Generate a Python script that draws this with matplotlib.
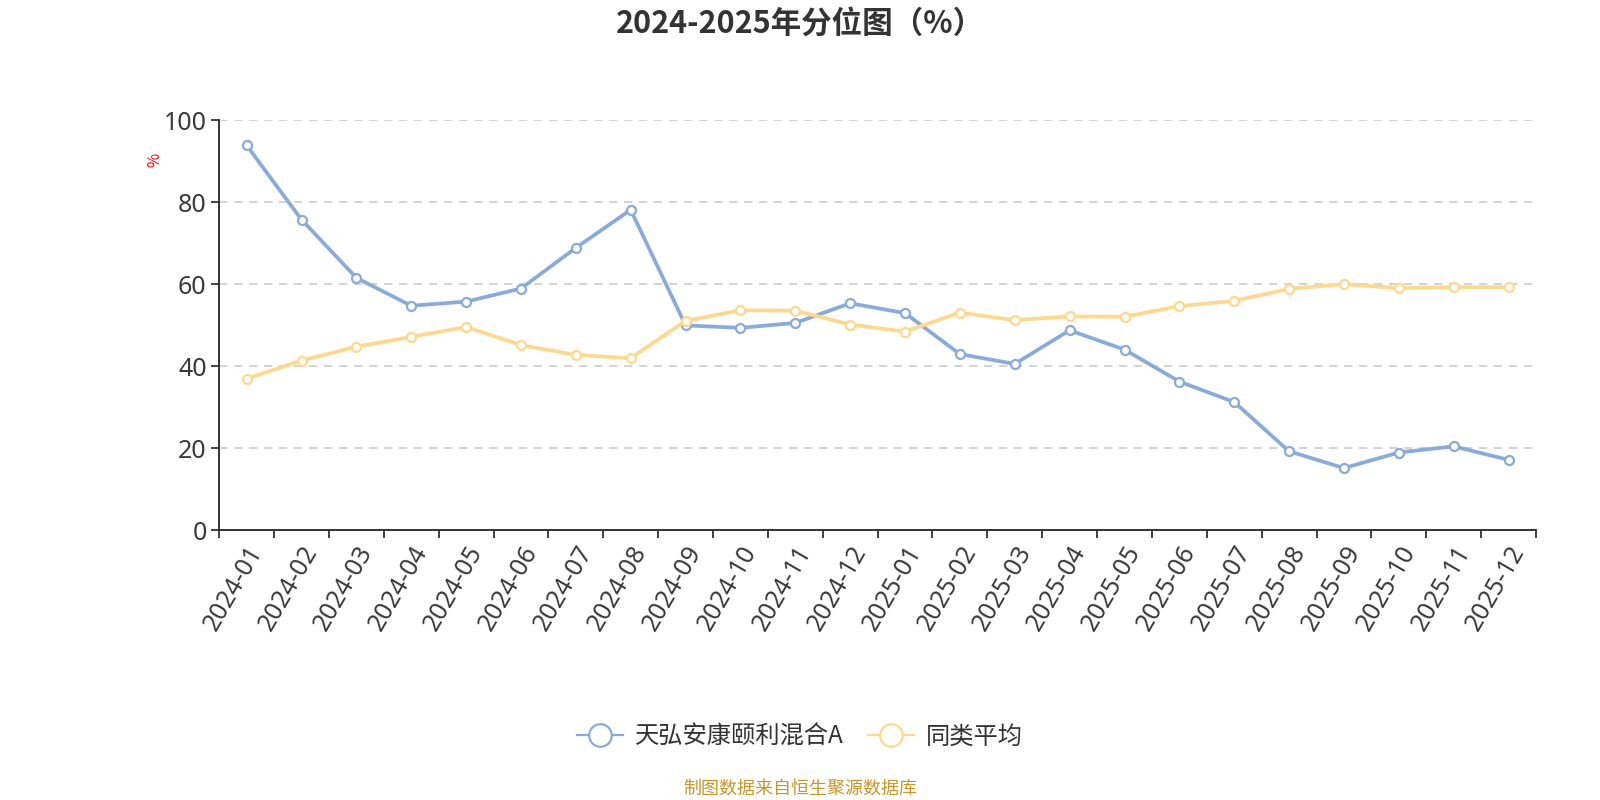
import matplotlib
matplotlib.use("Agg")
import matplotlib.pyplot as plt
from matplotlib.ticker import FixedLocator, NullFormatter

plt.rcParams['font.family'] = ['Noto Sans CJK SC', 'DejaVu Sans']

months = ["2024-01", "2024-02", "2024-03", "2024-04", "2024-05", "2024-06",
          "2024-07", "2024-08", "2024-09", "2024-10", "2024-11", "2024-12",
          "2025-01", "2025-02", "2025-03", "2025-04", "2025-05", "2025-06",
          "2025-07", "2025-08", "2025-09", "2025-10", "2025-11", "2025-12"]
fund_name = "天弘安康颐利混合A"
fund_vals = [93.9, 75.8, 61.6, 54.8, 55.8, 59.0, 68.9, 78.2, 50.0, 49.4, 50.6, 55.4,
             53.0, 43.0, 40.6, 48.8, 44.1, 36.3, 31.3, 19.3, 15.2, 19.0, 20.5, 17.2]
avg_name = "同类平均"
avg_vals = [37.0, 41.4, 44.8, 47.2, 49.6, 45.2, 42.8, 42.0, 51.1, 53.7, 53.6, 50.2,
            48.5, 53.1, 51.3, 52.2, 52.1, 54.7, 56.0, 58.9, 60.1, 59.1, 59.3, 59.3]
y_ticks = [0, 20, 40, 60, 80, 100]

title = "2024-2025年分位图（%）"
footer = "制图数据来自恒生聚源数据库"

blue = "#8aabda"
yellow = "#fed88f"
text_c = "#333333"
tick_font = ['Noto Sans', 'DejaVu Sans']

fig = plt.figure(figsize=(16, 8), dpi=100)
ax = fig.add_axes([0.137, 0.337, 0.823, 0.5125])

x = list(range(len(months)))
ax.plot(x, fund_vals, color=blue, lw=2.7, marker='o', ms=6.5, mfc='white',
        mec=blue, mew=1.6, label=fund_name, zorder=3)
ax.plot(x, avg_vals, color=yellow, lw=2.7, marker='o', ms=6.5, mfc='white',
        mec=yellow, mew=1.6, label=avg_name, zorder=4)

ax.set_xlim(-0.5, len(months) - 0.5)
ax.set_ylim(0, 100)
ax.set_yticks(y_ticks)
ax.set_yticklabels([str(v) for v in y_ticks], fontsize=18, color='#3a3a3a',
                   family=tick_font)
ax.yaxis.grid(True, ls=(0, (5, 4)), color='#cccccc', lw=1.2)
ax.set_axisbelow(True)

ax.set_xticks(x)
ax.set_xticklabels(months, rotation=60, ha='right', rotation_mode='anchor',
                   fontsize=18, color='#3a3a3a', family=tick_font)
ax.xaxis.set_minor_locator(FixedLocator([i - 0.5 for i in range(len(months) + 1)]))
ax.xaxis.set_minor_formatter(NullFormatter())
ax.tick_params(axis='x', which='major', length=0, pad=8)
ax.tick_params(axis='x', which='minor', length=6, width=1.3, color=text_c)
ax.tick_params(axis='y', length=6, width=1.3, color=text_c, pad=3)

for s in ['top', 'right']:
    ax.spines[s].set_visible(False)
for s in ['left', 'bottom']:
    ax.spines[s].set_color(text_c)
    ax.spines[s].set_linewidth(1.4)

fig.text(0.5, 0.97, title, ha='center', va='center', fontsize=22,
         fontweight='bold', color=text_c)
fig.text(0.097, 0.8, "%", ha='center', va='center', fontsize=11,
         color='red', rotation=90)

leg = fig.legend(loc='center', bbox_to_anchor=(0.5, 0.079), ncol=2, frameon=False,
                 fontsize=17.5, markerscale=2.5, handlelength=1.9,
                 columnspacing=1.0, handletextpad=0.5)
for t in leg.get_texts():
    t.set_color(text_c)
for h in leg.legend_handles:
    h.set_linewidth(1.6)

fig.text(0.5, 0.014, footer, ha='center', va='center', fontsize=13,
         color='#c9962c')

fig.savefig("out.png", dpi=100)
